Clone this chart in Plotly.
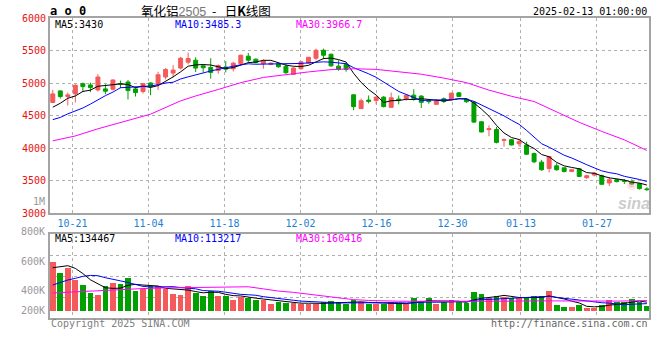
import numpy as np
import plotly.graph_objects as go

# ---------------- data ----------------
dates = ["10-16", "10-17", "10-18", "10-21", "10-22", "10-23", "10-24", "10-25", "10-28", "10-29",
         "10-30", "10-31", "11-01", "11-04", "11-05", "11-06", "11-07", "11-08", "11-11", "11-12",
         "11-13", "11-14", "11-15", "11-18", "11-19", "11-20", "11-21", "11-22", "11-25", "11-26",
         "11-27", "11-28", "11-29", "12-02", "12-03", "12-04", "12-05", "12-06", "12-09", "12-10",
         "12-11", "12-12", "12-13", "12-16", "12-17", "12-18", "12-19", "12-20", "12-23", "12-24",
         "12-25", "12-26", "12-27", "12-30", "12-31", "01-02", "01-03", "01-06", "01-07", "01-08",
         "01-09", "01-10", "01-13", "01-14", "01-15", "01-16", "01-17", "01-20", "01-21", "01-22",
         "01-23", "01-24", "01-27", "02-05", "02-06", "02-07", "02-10", "02-11", "02-12", "02-13"]

open_ = [4705, 4883, 4797, 4837, 4995, 4975, 4898, 4914, 4909, 4995,
         5020, 4914, 4873, 5005, 4980, 5097, 5157, 5234, 5325, 5356,
         5269, 5244, 5198, 5249, 5224, 5300, 5417, 5371, 5300, 5290,
         5300, 5259, 5137, 5224, 5310, 5386, 5508, 5447, 5264, 5290,
         4823, 4610, 4742, 4737, 4787, 4630, 4757, 4767, 4818, 4803,
         4737, 4676, 4762, 4747, 4853, 4757, 4707, 4408, 4287, 4290,
         4122, 4132, 4071, 4051, 3919, 3787, 3690, 3731, 3700, 3644,
         3685, 3548, 3589, 3578, 3467, 3517, 3502, 3492, 3456, 3375]
high = [4898, 4890, 4858, 4985, 5010, 5010, 5142, 4985, 5061, 5041,
        5051, 4949, 5005, 5015, 5178, 5234, 5279, 5406, 5472, 5401,
        5290, 5386, 5290, 5340, 5330, 5442, 5467, 5381, 5371, 5320,
        5315, 5305, 5249, 5340, 5401, 5533, 5533, 5457, 5356, 5305,
        4828, 4767, 4813, 4798, 4803, 4858, 4813, 4828, 4909, 4818,
        4747, 4757, 4782, 4858, 4863, 4772, 4722, 4415, 4352, 4330,
        4152, 4142, 4142, 4102, 3934, 3822, 3883, 3771, 3705, 3680,
        3695, 3594, 3629, 3594, 3558, 3533, 3528, 3523, 3467, 3401]
low = [4695, 4766, 4660, 4705, 4863, 4863, 4873, 4832, 4888, 4924,
       4751, 4797, 4843, 4817, 4898, 5061, 5091, 5213, 5290, 5173,
       5163, 5071, 5147, 5168, 5183, 5279, 5315, 5305, 5224, 5279,
       5239, 5147, 5137, 5208, 5300, 5356, 5371, 5254, 5193, 5178,
       4585, 4610, 4691, 4676, 4630, 4630, 4676, 4732, 4732, 4620,
       4686, 4676, 4696, 4737, 4787, 4696, 4393, 4245, 4185, 4076,
       4025, 4046, 4025, 3898, 3771, 3655, 3629, 3655, 3629, 3634,
       3558, 3528, 3568, 3441, 3421, 3477, 3451, 3441, 3365, 3345]
close = [4837, 4797, 4822, 4970, 4949, 4934, 5097, 4878, 5051, 4990,
         4888, 4858, 4995, 4949, 5132, 5213, 5203, 5386, 5381, 5234,
         5239, 5168, 5274, 5218, 5310, 5432, 5356, 5320, 5350, 5310,
         5254, 5163, 5234, 5330, 5401, 5508, 5432, 5269, 5213, 5213,
         4641, 4732, 4722, 4787, 4641, 4777, 4747, 4818, 4767, 4707,
         4717, 4727, 4722, 4848, 4798, 4717, 4403, 4251, 4302, 4091,
         4132, 4051, 4102, 3909, 3792, 3670, 3873, 3670, 3644, 3670,
         3568, 3578, 3619, 3446, 3517, 3487, 3492, 3451, 3380, 3365]
volume = [774000, 595000, 674000, 485000, 406000, 284000, 248000, 390000, 437000, 421000,
          516000, 316000, 337000, 390000, 390000, 337000, 263000, 248000, 390000, 274000,
          237000, 311000, 237000, 237000, 169000, 211000, 205000, 169000, 169000, 105000,
          132000, 126000, 126000, 105000, 105000, 105000, 137000, 153000, 137000, 105000,
          169000, 137000, 105000, 105000, 105000, 132000, 116000, 105000, 200000, 158000,
          200000, 105000, 137000, 169000, 137000, 116000, 295000, 263000, 205000, 232000,
          216000, 195000, 195000, 195000, 232000, 232000, 311000, 90000, 63000, 58000,
          90000, 47000, 47000, 90000, 169000, 137000, 137000, 184000, 137000, 79000]

# moving-average values before enough visible history exists
ma5_head = [4632, 4693, 4770, 4805]
ma10_head = [4441, 4475, 4530, 4570, 4620, 4680, 4750, 4810, 4865]
ma30_idx = [0, 3, 6, 9, 13, 17, 19, 22, 25, 28, 31, 34, 37, 40, 43, 46, 49, 52, 55, 58, 61, 64, 67, 70, 73, 76, 79]
ma30_val = [4115, 4190, 4300, 4400, 4525, 4730, 4805, 4905, 5010, 5090, 5138, 5175, 5210, 5224, 5214, 5180,
            5140, 5080, 5010, 4895, 4800, 4720, 4565, 4400, 4260, 4130, 3967]

vma5_head = [679000, 700000, 711000, 669000]
vma10_head = [406000, 448000, 485000, 511000, 543000, 558000, 553000, 521000, 500000]
vma30_idx = [0, 3, 6, 9, 12, 15, 18, 21, 24, 26, 28, 30, 32, 34, 36, 38, 40, 42, 44, 46, 50, 55, 60, 65, 70, 75, 79]
vma30_val = [280000, 300000, 310000, 330000, 350000, 360000, 365000, 378000, 380000, 378000, 345000, 310000,
             290000, 260000, 232000, 200000, 175000, 162000, 155000, 150000, 148000, 145000, 150000, 155000,
             150000, 152000, 160000]

tick_labels = ["10-21", "11-04", "11-18", "12-02", "12-16", "12-30", "01-13", "01-27"]
price_ticks = [3000, 3500, 4000, 4500, 5000, 5500, 6000]
vol_axis_labels = ["1M", "800K", "600K", "400K", "200K"]
price_ma_text = ["MA5:3430", "MA10:3485.3", "MA30:3966.7"]
vol_ma_text = ["MA5:134467", "MA10:113217", "MA30:160416"]

# ---------------- derived ----------------
idx = list(range(len(dates)))
c = np.array(close, float)
v = np.array(volume, float)


def sma(a, n, head):
    return list(head) + [float(a[i - n + 1:i + 1].mean()) for i in range(n - 1, len(a))]


ma5 = sma(c, 5, ma5_head)
ma10 = sma(c, 10, ma10_head)
vma5 = sma(v, 5, vma5_head)
vma10 = sma(v, 10, vma10_head)

RED = "#f45a5a"
GREEN = "#00a000"
vol_colors = [RED if cl > op else GREEN for op, cl in zip(open_, close)]

MONO = "DejaVu Sans Mono"
W, H = 660, 360


def xp(x):
    return x / W


def yp(y):
    return 1 - y / H


fig = go.Figure()

fig.add_trace(go.Candlestick(
    x=idx, open=open_, high=high, low=low, close=close,
    increasing=dict(line=dict(color=RED, width=1), fillcolor=RED),
    decreasing=dict(line=dict(color=GREEN, width=1), fillcolor=GREEN),
    whiskerwidth=0, xaxis="x", yaxis="y", hoverinfo="skip"))

fig.add_trace(go.Scatter(x=idx, y=ma5, mode="lines", line=dict(color="#000000", width=1), xaxis="x", yaxis="y"))
fig.add_trace(go.Scatter(x=idx, y=ma10, mode="lines", line=dict(color="#0000ff", width=1), xaxis="x", yaxis="y"))
fig.add_trace(go.Scatter(x=ma30_idx, y=ma30_val, mode="lines", line=dict(color="#ff00ff", width=1), xaxis="x", yaxis="y"))

fig.add_trace(go.Bar(x=idx, y=volume, marker=dict(color=vol_colors, line=dict(width=0)), width=0.76,
                     xaxis="x2", yaxis="y2"))
fig.add_trace(go.Scatter(x=idx, y=vma5, mode="lines", line=dict(color="#000000", width=1), xaxis="x2", yaxis="y2"))
fig.add_trace(go.Scatter(x=idx, y=vma10, mode="lines", line=dict(color="#0000ff", width=1), xaxis="x2", yaxis="y2"))
fig.add_trace(go.Scatter(x=vma30_idx, y=vma30_val, mode="lines", line=dict(color="#ff00ff", width=1), xaxis="x2", yaxis="y2"))

tick_idx = [dates.index(t) for t in tick_labels]
tick_pos = [i - 0.41 + 0.0107 * i for i in tick_idx]

XR = [-0.37, 79.28]
GRID = dict(showgrid=True, gridcolor="#b0b0b0", griddash="dot", gridwidth=1, zeroline=False,
            showline=True, linecolor="#a4a4a4", linewidth=2, mirror=True, ticks="", automargin=False)

vlo, vhi = -120000, 1207000

fig.update_layout(
    width=W, height=H, margin=dict(l=0, r=0, t=0, b=0, pad=0, autoexpand=False),
    paper_bgcolor="white", plot_bgcolor="white", showlegend=False, hovermode=False,
    boxgap=0.25,
    xaxis=dict(domain=[xp(50), xp(649)], range=XR, anchor="y", tickmode="array",
               tickvals=tick_pos, ticktext=tick_labels,
               tickfont=dict(family=MONO, size=10, color="#1e7fd0"),
               rangeslider=dict(visible=False), **GRID),
    yaxis=dict(domain=[yp(213.3), yp(18.3)], range=[3000, 6000], anchor="x", tickmode="array",
               tickvals=price_ticks, tickfont=dict(family=MONO, size=10, color="#e81010"), **GRID),
    xaxis2=dict(domain=[xp(50), xp(649)], range=XR, anchor="y2", tickmode="array",
                tickvals=tick_pos, showticklabels=False, **GRID),
    yaxis2=dict(domain=[yp(318.3), yp(234.3)], range=[vlo, vhi], anchor="x2", tickmode="array",
                tickvals=[vlo + (vhi - vlo) * f for f in (0.25, 0.5, 0.75)], showticklabels=False, **GRID),
    bargap=0,
)

ann = []


def text(x, y, s, color="#000000", size=10, anchor="left", family=MONO):
    ann.append(dict(x=xp(x), y=yp(y), xref="paper", yref="paper", text=s, showarrow=False,
                    xanchor=anchor, yanchor="middle", font=dict(family=family, size=size, color=color),
                    borderpad=0))


text(49, 11, "<b>a o 0</b>", size=12)
text(140, 10.5, "氧化铝<span style='color:#777777;font-family:Liberation Sans'>2505</span>&nbsp;&nbsp;-&nbsp;&nbsp;&nbsp;日<b>K</b>线图",
     size=12.5, family="Noto Sans CJK SC")
text(648, 12, "2025-02-13 01:00:00", anchor="right")

for s, x, col in zip(price_ma_text, (54, 174, 295), ("#000000", "#0000ff", "#ff00ff")):
    text(x, 24.5, s, color=col)
for s, x, col in zip(vol_ma_text, (54, 174, 295), ("#000000", "#0000ff", "#ff00ff")):
    text(x, 238, s, color=col)

for s, y in zip(vol_axis_labels, (201, 231, 261.5, 290.5, 310.5)):
    text(46, y, s, color="#999999", anchor="right")

text(50, 323, "Copyright 2025 SINA.COM", color="#808080")
text(649, 323.5, "http://finance.sina.com.cn", color="#666666", anchor="right")

# faint sina watermark
text(632, 185, "◉", color="rgba(240,130,130,0.45)", size=11, anchor="center", family="DejaVu Sans")
text(634, 203, "<b><i>sina</i></b>", color="rgba(160,160,160,0.55)", size=16, anchor="center",
     family="Liberation Sans")

fig.update_layout(annotations=ann)

fig.write_html("out.html", config={"displayModeBar": False, "staticPlot": True},
               post_script="document.body.style.margin='0';document.body.style.overflow='hidden';")
